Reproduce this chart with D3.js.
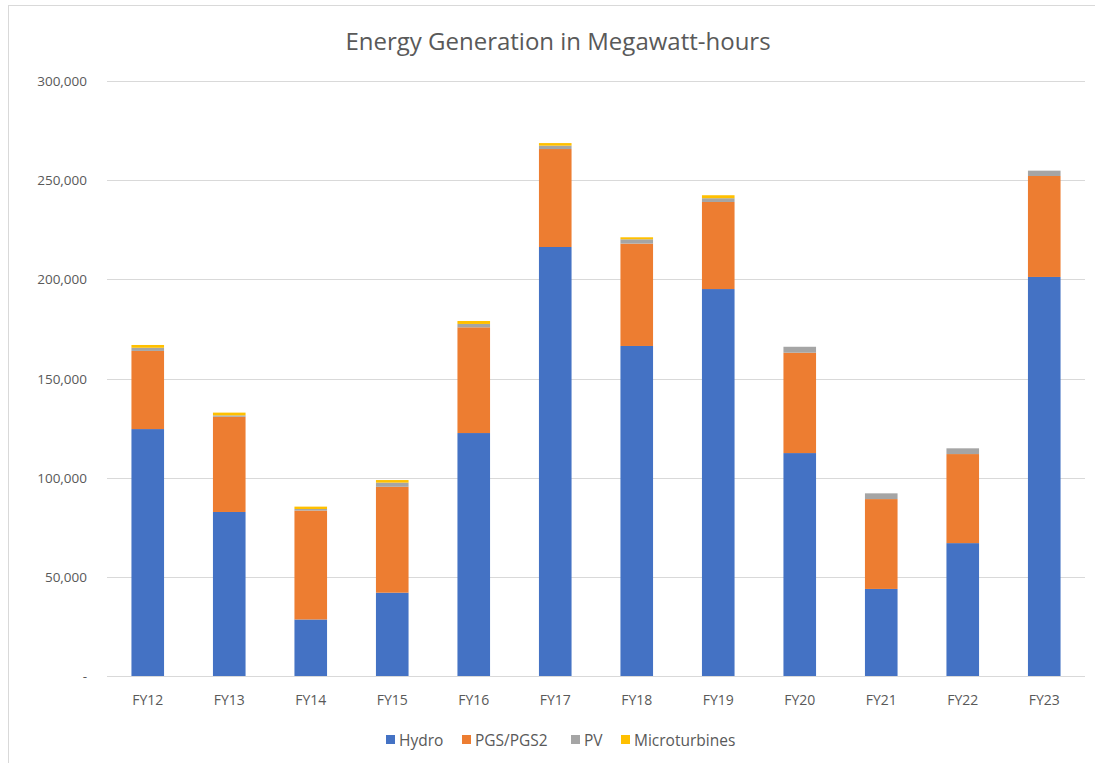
<!DOCTYPE html>
<html><head><meta charset="utf-8">
<script src="https://cdn.jsdelivr.net/npm/d3@7"></script>
<style>body{margin:0;background:#fff}svg{display:block}text{font-family:"Open Sans",sans-serif}</style>
</head><body>
<svg id="c" width="1095" height="763"></svg>
<script>
const categories = ["FY12","FY13","FY14","FY15","FY16","FY17","FY18","FY19","FY20","FY21","FY22","FY23"];
const seriesNames = ["Hydro","PGS/PGS2","PV","Microturbines"];
const hydro = [124500, 82700, 28500, 42000, 122500, 216300, 166400, 195100, 112400, 43900, 67000, 201200];
const pgs = [39400, 48000, 54900, 53400, 53300, 49400, 51600, 43900, 50600, 45300, 44900, 50900];
const pv = [1600, 700, 800, 2100, 1700, 1700, 2200, 1900, 3000, 2900, 2900, 2700];
const micro = [1400, 1400, 1200, 1300, 1500, 1300, 1000, 1500, 0, 0, 0, 0];
const yTicks = [0, 50000, 100000, 150000, 200000, 250000, 300000];
const colors = ["#4472c4", "#ed7d31", "#a5a5a5", "#ffc000"];

const svg = d3.select("#c");
// chart border
svg.append("rect").attr("x", 8.5).attr("y", 5.5).attr("width", 1100).attr("height", 800)
  .attr("fill", "#fff").attr("stroke", "#d9d9d9").attr("stroke-width", 1);

const x = d3.scaleBand().domain(categories).range([107, 1085]).paddingInner(0.6).paddingOuter(0.3);
const y = d3.scaleLinear().domain([0, 300000]).range([676, 81]);

const rows = categories.map((c, i) => ({cat: c, Hydro: hydro[i], "PGS/PGS2": pgs[i], PV: pv[i], Microturbines: micro[i]}));
const stack = d3.stack().keys(seriesNames)(rows);

// gridlines
svg.append("g").selectAll("line").data(yTicks).join("line")
  .attr("x1", 107).attr("x2", 1085)
  .attr("y1", d => Math.round(y(d)) + 0.5).attr("y2", d => Math.round(y(d)) + 0.5)
  .attr("stroke", "#d9d9d9").attr("stroke-width", 1);

// y labels
const fmt = d3.format(",");
svg.append("g").selectAll("text").data(yTicks).join("text")
  .attr("x", 87).attr("y", d => y(d) + 5).attr("text-anchor", "end")
  .attr("font-size", 13.5).attr("fill", "#595959")
  .text(d => d === 0 ? "-" : fmt(d));

// bars
svg.append("g").selectAll("g").data(stack).join("g")
  .attr("fill", (d, i) => colors[i])
  .selectAll("rect").data(d => d).join("rect")
  .attr("x", d => x(d.data.cat))
  .attr("width", x.bandwidth())
  .attr("y", d => y(d[1]))
  .attr("height", d => Math.max(0, y(d[0]) - y(d[1])));

// x labels
svg.append("g").selectAll("text").data(categories).join("text")
  .attr("x", d => x(d) + x.bandwidth() / 2).attr("y", 705).attr("text-anchor", "middle")
  .attr("font-size", 14).attr("fill", "#595959").text(d => d);

// title
svg.append("text").attr("x", 558).attr("y", 50).attr("text-anchor", "middle")
  .attr("font-size", 24).attr("fill", "#595959").text("Energy Generation in Megawatt-hours");

// legend
const legX = [386, 462, 571, 621];
const lg = svg.append("g").selectAll("g").data(seriesNames).join("g")
  .attr("transform", (d, i) => `translate(${legX[i]},740)`);
lg.append("rect").attr("x", 0).attr("y", -5).attr("width", 9).attr("height", 9).attr("fill", (d, i) => colors[i]);
lg.append("text").attr("x", 13).attr("y", 5.5).attr("font-size", 15.5).attr("fill", "#595959").text(d => d);
</script>
</body></html>
